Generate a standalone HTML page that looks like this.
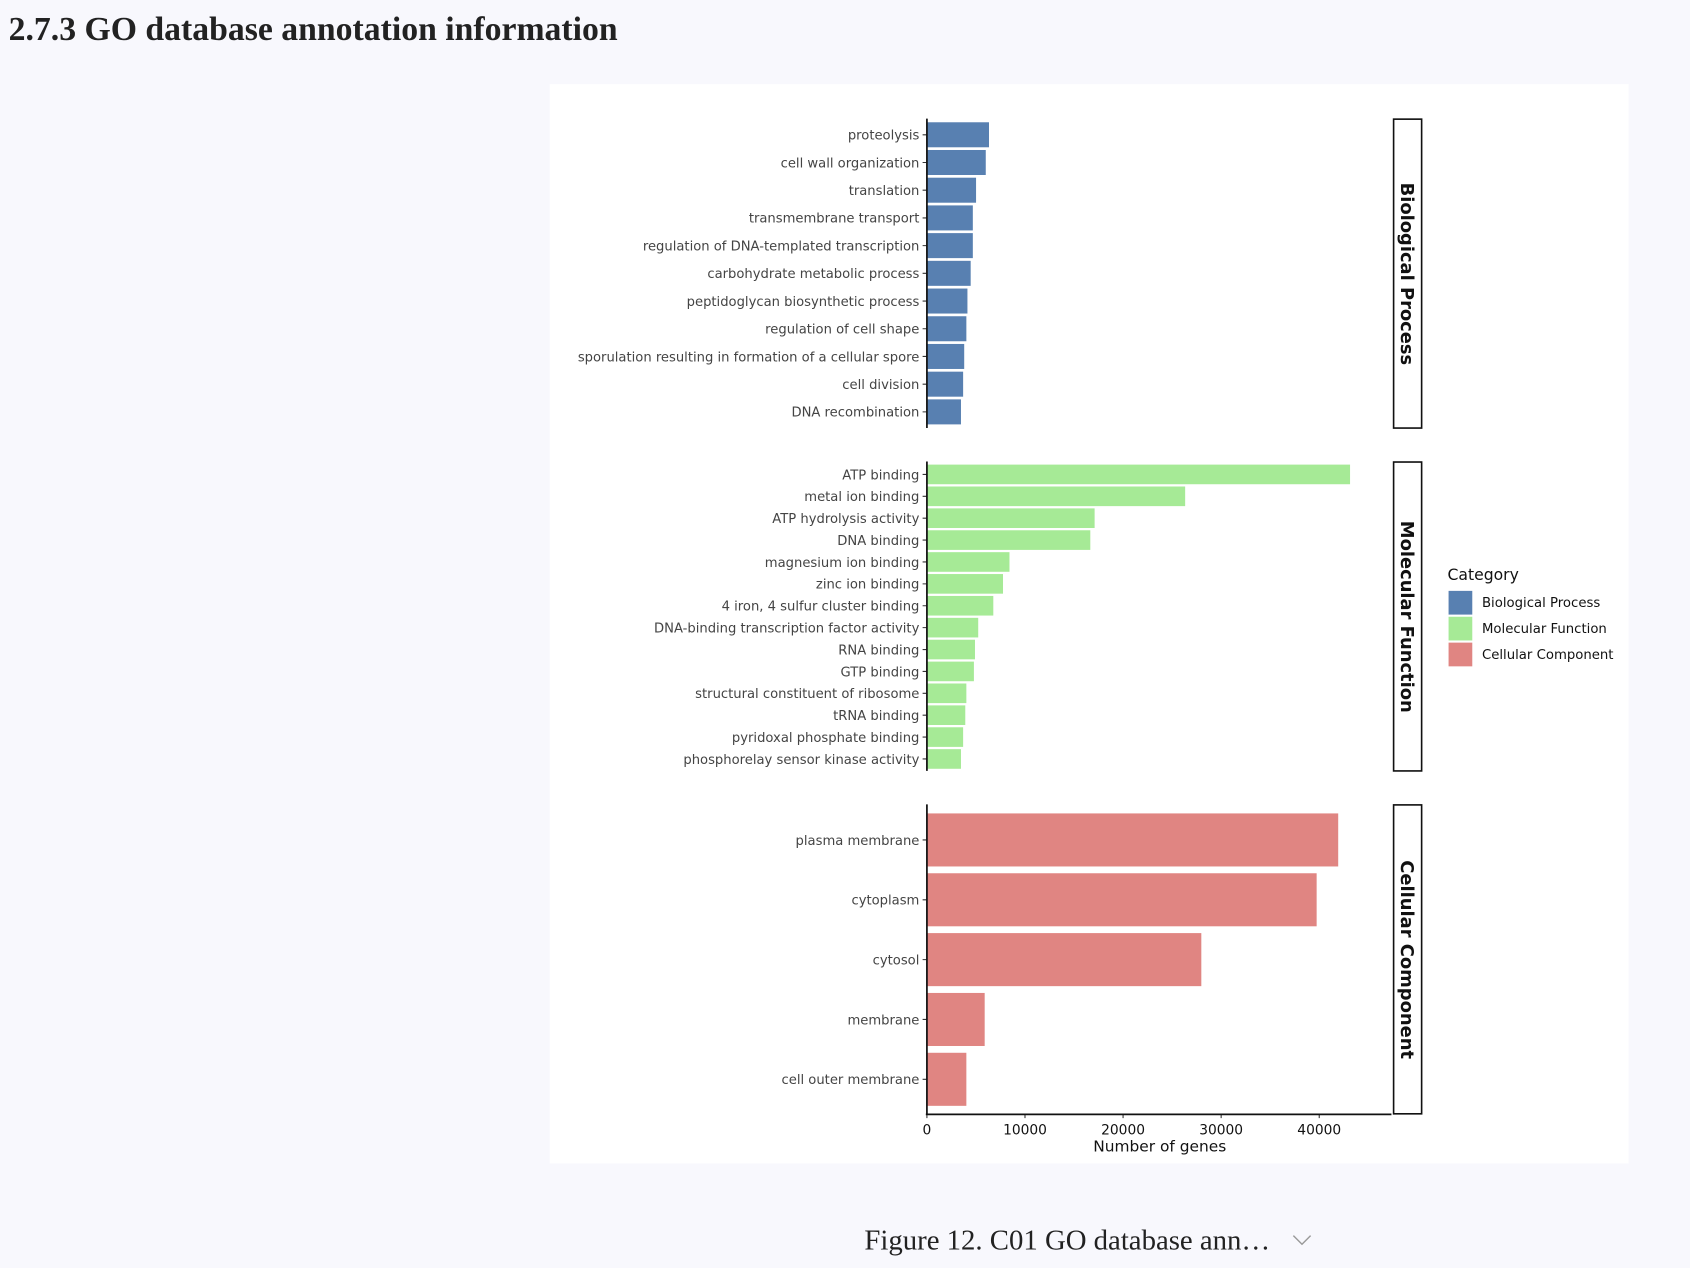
<!DOCTYPE html>
<html><head><meta charset="utf-8"><style>
html,body{margin:0;padding:0;background:#f8f8fd;}
svg{display:block;}
</style></head><body>
<svg width="1690" height="1268" viewBox="0 0 1568 1176" preserveAspectRatio="none" xmlns="http://www.w3.org/2000/svg">
<rect width="1568" height="1176" fill="#f8f8fd"/>
<text x="8" y="37" font-family="Liberation Serif, serif" font-weight="bold" font-size="31.3" fill="#222">2.7.3 GO database annotation information</text>
<rect x="510" y="78" width="1001" height="1001" fill="#fff"/>
<g font-family="DejaVu Sans, sans-serif" font-size="12.2" fill="#444" text-anchor="end">
<g fill="#5880b1" stroke="#fff" stroke-width="0.8">
<rect x="860" y="113" width="58" height="24"/>
<rect x="860" y="138.7" width="55" height="24"/>
<rect x="860" y="164.4" width="46" height="24"/>
<rect x="860" y="190.1" width="43" height="24"/>
<rect x="860" y="215.8" width="43" height="24"/>
<rect x="860" y="241.5" width="41" height="24"/>
<rect x="860" y="267.2" width="38" height="24"/>
<rect x="860" y="292.9" width="37" height="24"/>
<rect x="860" y="318.6" width="35" height="24"/>
<rect x="860" y="344.3" width="34" height="24"/>
<rect x="860" y="370" width="32" height="24"/>
</g>
<text x="853" y="129.5">proteolysis</text>
<text x="853" y="155.2">cell wall organization</text>
<text x="853" y="180.9">translation</text>
<text x="853" y="206.6">transmembrane transport</text>
<text x="853" y="232.3">regulation of DNA-templated transcription</text>
<text x="853" y="258">carbohydrate metabolic process</text>
<text x="853" y="283.7">peptidoglycan biosynthetic process</text>
<text x="853" y="309.4">regulation of cell shape</text>
<text x="853" y="335.1">sporulation resulting in formation of a cellular spore</text>
<text x="853" y="360.8">cell division</text>
<text x="853" y="386.5">DNA recombination</text>
<g fill="#a6ea96" stroke="#fff" stroke-width="0.8">
<rect x="860" y="430.5" width="393" height="19"/>
<rect x="860" y="450.8" width="240" height="19"/>
<rect x="860" y="471.1" width="156" height="19"/>
<rect x="860" y="491.4" width="152" height="19"/>
<rect x="860" y="511.7" width="77" height="19"/>
<rect x="860" y="532" width="71" height="19"/>
<rect x="860" y="552.3" width="62" height="19"/>
<rect x="860" y="572.6" width="48" height="19"/>
<rect x="860" y="592.9" width="45" height="19"/>
<rect x="860" y="613.2" width="44" height="19"/>
<rect x="860" y="633.5" width="37" height="19"/>
<rect x="860" y="653.8" width="36" height="19"/>
<rect x="860" y="674.1" width="34" height="19"/>
<rect x="860" y="694.4" width="32" height="19"/>
</g>
<text x="853" y="444.5">ATP binding</text>
<text x="853" y="464.8">metal ion binding</text>
<text x="853" y="485.1">ATP hydrolysis activity</text>
<text x="853" y="505.4">DNA binding</text>
<text x="853" y="525.7">magnesium ion binding</text>
<text x="853" y="546">zinc ion binding</text>
<text x="853" y="566.3">4 iron, 4 sulfur cluster binding</text>
<text x="853" y="586.6">DNA-binding transcription factor activity</text>
<text x="853" y="606.9">RNA binding</text>
<text x="853" y="627.2">GTP binding</text>
<text x="853" y="647.5">structural constituent of ribosome</text>
<text x="853" y="667.8">tRNA binding</text>
<text x="853" y="688.1">pyridoxal phosphate binding</text>
<text x="853" y="708.4">phosphorelay sensor kinase activity</text>
<g fill="#e08582" stroke="#fff" stroke-width="0.8">
<rect x="860" y="754" width="382" height="50"/>
<rect x="860" y="809.5" width="362" height="50"/>
<rect x="860" y="865" width="255" height="50"/>
<rect x="860" y="920.5" width="54" height="50"/>
<rect x="860" y="976" width="37" height="50"/>
</g>
<text x="853" y="783.5">plasma membrane</text>
<text x="853" y="839">cytoplasm</text>
<text x="853" y="894.5">cytosol</text>
<text x="853" y="950">membrane</text>
<text x="853" y="1005.5">cell outer membrane</text>
</g>
<g stroke="#333" stroke-width="1">
<path d="M856 125h4M856 150.7h4M856 176.4h4M856 202.1h4M856 227.8h4M856 253.5h4M856 279.2h4M856 304.9h4M856 330.6h4M856 356.3h4M856 382h4"/>
<path d="M856 440h4M856 460.3h4M856 480.6h4M856 500.9h4M856 521.2h4M856 541.5h4M856 561.8h4M856 582.1h4M856 602.4h4M856 622.7h4M856 643h4M856 663.3h4M856 683.6h4M856 703.9h4"/>
<path d="M856 779h4M856 834.5h4M856 890h4M856 945.5h4M856 1001h4"/>
<path d="M860 1033v4M951 1033v4M1042 1033v4M1133 1033v4M1224 1033v4"/>
</g>
<g stroke="#111" stroke-width="1.6" fill="none">
<path d="M860 110V397M860 428V715M860 746V1034M859 1033.5H1291"/>
</g>
<g stroke="#111" stroke-width="1.5" fill="#fff">
<rect x="1293" y="110.5" width="26" height="286.5"/>
<rect x="1293" y="428.5" width="26" height="286.5"/>
<rect x="1293" y="746.5" width="26" height="286.5"/>
</g>
<g font-family="DejaVu Sans, sans-serif" font-weight="bold" font-size="16.6" fill="#111" text-anchor="middle">
<text transform="translate(1300,254) rotate(90)">Biological Process</text>
<text transform="translate(1300,572) rotate(90)">Molecular Function</text>
<text transform="translate(1300,890) rotate(90)">Cellular Component</text>
</g>
<g font-family="DejaVu Sans, sans-serif" font-size="12.8" fill="#111" text-anchor="middle">
<text x="860" y="1052">0</text>
<text x="951" y="1052">10000</text>
<text x="1042" y="1052">20000</text>
<text x="1133" y="1052">30000</text>
<text x="1224" y="1052">40000</text>
<text x="1076" y="1068" font-size="14.3">Number of genes</text>
</g>
<g font-family="DejaVu Sans, sans-serif" fill="#111">
<text x="1343" y="538" font-size="14.5">Category</text>
<rect x="1344" y="548" width="22" height="22" fill="#5880b1"/>
<rect x="1344" y="572" width="22" height="22" fill="#a6ea96"/>
<rect x="1344" y="596" width="22" height="22" fill="#e08582"/>
<text x="1375" y="563" font-size="12.3">Biological Process</text>
<text x="1375" y="587" font-size="12.3">Molecular Function</text>
<text x="1375" y="611" font-size="12.3">Cellular Component</text>
</g>
<text x="802" y="1159" font-family="Liberation Serif, serif" font-size="26.7" fill="#222">Figure 12. C01 GO database ann…</text>
<path d="M1200 1146l8 8 8-8" stroke="#999" stroke-width="1.3" fill="none"/>
</svg>
</body></html>
